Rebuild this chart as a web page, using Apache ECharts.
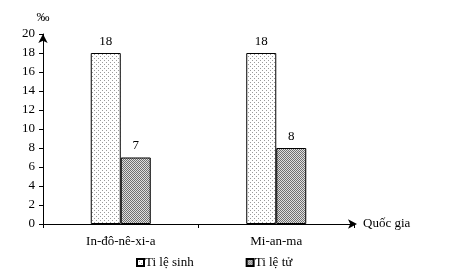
<!DOCTYPE html>
<html><head><meta charset="utf-8">
<script src="https://cdn.jsdelivr.net/npm/echarts@6/dist/echarts.min.js"></script>
<style>html,body{margin:0;padding:0;background:#fff}#c{width:451px;height:277px}</style>
</head><body><div id="c"></div>
<script>
const categories = ['In-đô-nê-xi-a', 'Mi-an-ma'];
const birthRate = [18, 18];
const deathRate = [7, 8];
const seriesNames = ['Ti lệ sinh', 'Ti lệ tử'];

function makePattern(kind) {
  const cv = document.createElement('canvas');
  cv.width = 4; cv.height = 4;
  const ctx = cv.getContext('2d');
  if (kind === 'dots') {
    ctx.fillStyle = '#ffffff'; ctx.fillRect(0, 0, 4, 4);
    ctx.fillStyle = '#9a9a9a';
    ctx.fillRect(0, 0, 1, 1); ctx.fillRect(2, 2, 1, 1);
  } else {
    ctx.fillStyle = '#e0e0e0'; ctx.fillRect(0, 0, 4, 4);
    ctx.fillStyle = '#707070';
    for (let y = 0; y < 4; y++) for (let x = 0; x < 4; x++) if ((x + y) % 2 === 0) ctx.fillRect(x, y, 1, 1);
  }
  return { image: cv, repeat: 'repeat' };
}
const font = 'Liberation Serif';
const chart = echarts.init(document.getElementById('c'));
chart.setOption({
  animation: false,
  textStyle: { fontFamily: font, color: '#000' },
  grid: { left: 43, right: 97, top: 34, bottom: 53 },
  legend: {
    bottom: 3, left: 131, itemWidth: 7, itemHeight: 7, itemGap: 52,
    textStyle: { fontFamily: font, fontSize: 13, color: '#000', padding: [0, 0, 0, -4] },
    data: seriesNames.map(n => ({ name: n, icon: 'rect' }))
  },
  xAxis: {
    type: 'category', data: categories,
    name: 'Quốc gia', nameGap: 9,
    nameTextStyle: { fontFamily: font, fontSize: 13, color: '#000' },
    axisLine: { lineStyle: { color: '#000', width: 1 }, symbol: ['none', 'arrow'], symbolSize: [7, 9], symbolOffset: [0, 3] },
    axisTick: { show: true, length: 4, lineStyle: { color: '#000' } },
    axisLabel: { fontFamily: font, fontSize: 13, color: '#000', margin: 11 }
  },
  yAxis: {
    type: 'value', min: 0, max: 20, interval: 2,
    name: '‰', nameGap: 10, nameLocation: 'end',
    nameTextStyle: { fontFamily: font, fontSize: 13, color: '#000', align: 'center' },
    axisLine: { show: true, lineStyle: { color: '#000', width: 1 }, symbol: ['none', 'arrow'], symbolSize: [7, 9] },
    axisTick: { show: true, length: 4, lineStyle: { color: '#000' } },
    splitLine: { show: false },
    axisLabel: { fontFamily: font, fontSize: 13, color: '#000', margin: 8 }
  },
  series: [
    {
      name: seriesNames[0], type: 'bar', data: birthRate, barWidth: 30, barGap: '0%',
      itemStyle: { color: makePattern('dots'), borderColor: '#000', borderWidth: 1 },
      label: { show: true, position: 'top', distance: 5, fontFamily: font, fontSize: 13, color: '#000' }
    },
    {
      name: seriesNames[1], type: 'bar', data: deathRate, barWidth: 30,
      itemStyle: { color: makePattern('check'), borderColor: '#000', borderWidth: 1 },
      label: { show: true, position: 'top', distance: 5, fontFamily: font, fontSize: 13, color: '#000' }
    }
  ]
});
</script></body></html>
